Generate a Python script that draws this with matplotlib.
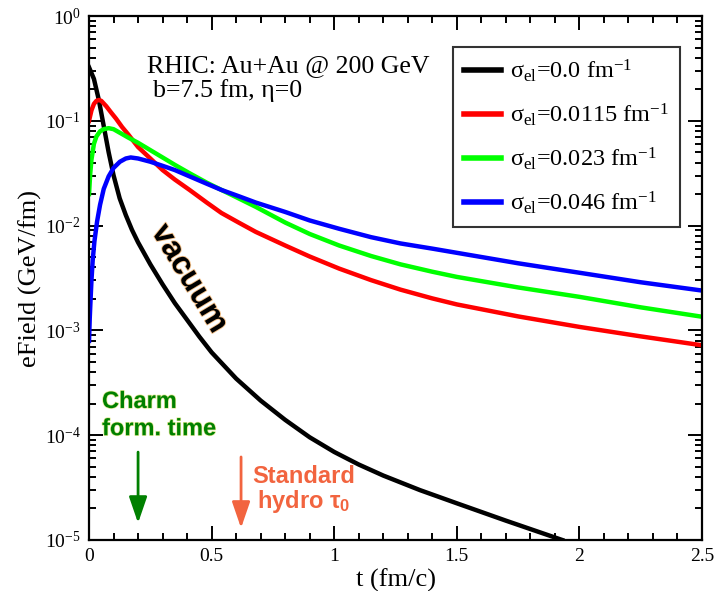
import numpy as np
import matplotlib
matplotlib.use('Agg')
import matplotlib.pyplot as plt
import matplotlib.patheffects as pe
from matplotlib.ticker import MultipleLocator, LogLocator, FuncFormatter

plt.rcParams['font.family'] = 'Liberation Serif'
plt.rcParams['mathtext.fontset'] = 'custom'
plt.rcParams['mathtext.rm'] = 'Liberation Serif'
plt.rcParams['mathtext.it'] = 'Liberation Serif:italic'
plt.rcParams['mathtext.bf'] = 'Liberation Sans:bold'

# vacuum (sigma_el = 0)
t_vac = [0.0, 0.02, 0.04, 0.06, 0.08, 0.10, 0.125, 0.15, 0.175, 0.2, 0.25, 0.3, 0.35, 0.4, 0.45,
         0.5, 0.6, 0.7, 0.8, 0.9, 1.0, 1.1, 1.2, 1.35, 1.5, 1.7, 1.93]
e_vac = [0.324, 0.251, 0.158, 0.0891, 0.0501, 0.0302, 0.0182, 0.0126, 0.00912, 0.00692, 0.00427,
         0.00275, 0.00182, 0.00126, 8.71e-4, 6.17e-4, 3.47e-4, 2.14e-4, 1.40e-4, 9.55e-5, 6.92e-5,
         5.25e-5, 4.12e-5, 2.99e-5, 2.24e-5, 1.53e-5, 1.0e-5]

# sigma_el = 0.0115
t_red = [0.0, 0.01, 0.02, 0.03, 0.04, 0.05, 0.07, 0.09, 0.11, 0.135, 0.16, 0.2, 0.25, 0.3, 0.35,
         0.41, 0.48, 0.54, 0.61, 0.68, 0.8, 0.9, 1.02, 1.15, 1.27, 1.4, 1.5, 1.75, 2.0, 2.25, 2.5]
e_red = [0.100, 0.126, 0.145, 0.155, 0.158, 0.155, 0.138, 0.120, 0.105, 0.0871, 0.0741, 0.0562,
         0.0437, 0.0339, 0.0275, 0.0219, 0.0166, 0.0132, 0.0107, 0.00871, 0.00646, 0.00507,
         0.00389, 0.00302, 0.00245, 0.00202, 0.00177, 0.00136, 0.00108, 8.77e-4, 7.21e-4]

# sigma_el = 0.023
t_grn = [0.0, 0.005, 0.01, 0.02, 0.03, 0.045, 0.06, 0.08, 0.1, 0.13, 0.16, 0.2, 0.25, 0.3, 0.35,
         0.41, 0.48, 0.54, 0.61, 0.68, 0.8, 0.9, 1.02, 1.15, 1.27, 1.4, 1.5, 1.75, 2.0, 2.25, 2.5]
e_grn = [0.0200, 0.0316, 0.0427, 0.0603, 0.0708, 0.0794, 0.0832, 0.0851, 0.0832, 0.0759, 0.0692,
         0.0617, 0.0525, 0.0447, 0.0380, 0.0316, 0.0257, 0.0219, 0.0182, 0.0151, 0.0107, 0.00832,
         0.00646, 0.00513, 0.00427, 0.00363, 0.00324, 0.00257, 0.00209, 0.00166, 0.00135]

# sigma_el = 0.046
t_blu = [0.0, 0.003, 0.006, 0.01, 0.015, 0.022, 0.033, 0.045, 0.06, 0.08, 0.1, 0.126, 0.15, 0.17,
         0.2, 0.25, 0.3, 0.35, 0.41, 0.48, 0.54, 0.61, 0.68, 0.8, 0.9, 1.02, 1.15, 1.27, 1.4, 1.5,
         1.75, 2.0, 2.25, 2.5]
e_blu = [7.94e-4, 0.00132, 0.00191, 0.00302, 0.00468, 0.00708, 0.0110, 0.0158, 0.0224, 0.0295,
         0.0355, 0.0407, 0.0437, 0.0447, 0.0437, 0.0407, 0.0372, 0.0339, 0.0295, 0.0251, 0.0219,
         0.0191, 0.0166, 0.0135, 0.0112, 0.00933, 0.00776, 0.00676, 0.00603, 0.00550, 0.00437,
         0.00355, 0.00288, 0.00240]

labels = ['σ$_\\mathrm{el}$=0.0 fm$^{-1}$', 'σ$_\\mathrm{el}$=0.0115 fm$^{-1}$',
          'σ$_\\mathrm{el}$=0.023 fm$^{-1}$', 'σ$_\\mathrm{el}$=0.046 fm$^{-1}$']

t_charm = 0.2
t_hydro = 0.62

fig = plt.figure(figsize=(7.25, 5.91), dpi=100)
ax = fig.add_axes([0.1228, 0.0863, 0.8455, 0.8866])

lw = 3.2
ax.plot(t_vac, e_vac, color='black', lw=lw, label=labels[0])
ax.plot(t_red, e_red, color='#ff0000', lw=lw, label=labels[1])
ax.plot(t_grn, e_grn, color='#00ff00', lw=lw, label=labels[2])
ax.plot(t_blu, e_blu, color='#0000ff', lw=lw, label=labels[3])

ax.set_yscale('log')
ax.set_xlim(0, 2.5)
ax.set_ylim(1e-5, 1)

ax.xaxis.set_major_locator(MultipleLocator(0.5))
ax.xaxis.set_minor_locator(MultipleLocator(0.1))
ax.xaxis.set_major_formatter(FuncFormatter(lambda v, p: '%g' % v))
ax.yaxis.set_major_locator(LogLocator(base=10, numticks=10))
ax.yaxis.set_minor_locator(LogLocator(base=10, subs=np.arange(2, 10), numticks=20))

ax.tick_params(which='both', direction='in', top=True, right=True, width=1.4, labelsize=14)
ax.tick_params(which='major', length=10, pad=6)
ax.tick_params(which='minor', length=5)
for s in ax.spines.values():
    s.set_linewidth(1.6)

ax.set_xlabel('t (fm/c)', fontsize=19)
ax.set_ylabel('eField (GeV/fm)', fontsize=19)
ax.xaxis.set_label_coords(0.5, -0.055)
ax.yaxis.set_label_coords(-0.076, 0.5)

ax.text(0.0946, 0.894, 'RHIC: Au+Au @ 200 GeV', transform=ax.transAxes, fontsize=18.6, va='baseline')
ax.text(0.104, 0.846, 'b=7.5 fm, η=0', transform=ax.transAxes, fontsize=18.6, va='baseline')

leg = ax.legend(loc='upper left', bbox_to_anchor=(0.594, 0.941), borderaxespad=0, fontsize=17.5,
                fancybox=False, handlelength=1.5, handletextpad=0.4, labelspacing=0.72,
                borderpad=0.45, framealpha=1)
leg.get_frame().set_edgecolor('#333333')
leg.get_frame().set_linewidth(1.5)
for h in leg.get_lines():
    h.set_linewidth(4)

# vacuum label
ax.text(0.408, 3.1e-3, 'vacuum', family='Liberation Sans', fontweight='bold', fontsize=23,
        rotation=-59, rotation_mode='anchor', ha='center', va='center',
        path_effects=[pe.withStroke(linewidth=1.3, foreground='#f2c08a')])

# charm formation time
green = '#008000'
ax.text(0.053, 1.82e-4, 'Charm', family='Liberation Sans', fontweight='bold', fontsize=17,
        color=green, va='baseline', path_effects=[pe.withStroke(linewidth=1, foreground='#dfe890')])
ax.text(0.053, 1.0e-4, 'form. time', family='Liberation Sans', fontweight='bold', fontsize=17,
        color=green, va='baseline', path_effects=[pe.withStroke(linewidth=1, foreground='#dfe890')])
ax.annotate('', xy=(t_charm, 1.45e-5), xytext=(t_charm, 6.9e-5),
            arrowprops=dict(arrowstyle='-|>,head_length=1.6,head_width=0.55', color=green, lw=2,
                            shrinkA=0, shrinkB=0))

# standard hydro tau0
orange = '#f2643f'
ax.text(0.665, 3.5e-5, 'Standard', family='Liberation Sans', fontweight='bold', fontsize=17,
        color=orange, va='baseline')
ax.text(0.685, 2.02e-5, 'hydro τ$_\\mathbf{0}$', family='Liberation Sans', fontweight='bold',
        fontsize=17, color=orange, va='baseline')
ax.annotate('', xy=(t_hydro, 1.3e-5), xytext=(t_hydro, 6.2e-5),
            arrowprops=dict(arrowstyle='-|>,head_length=1.6,head_width=0.55', color=orange, lw=2,
                            shrinkA=0, shrinkB=0))

fig.savefig('out.png', dpi=100)
